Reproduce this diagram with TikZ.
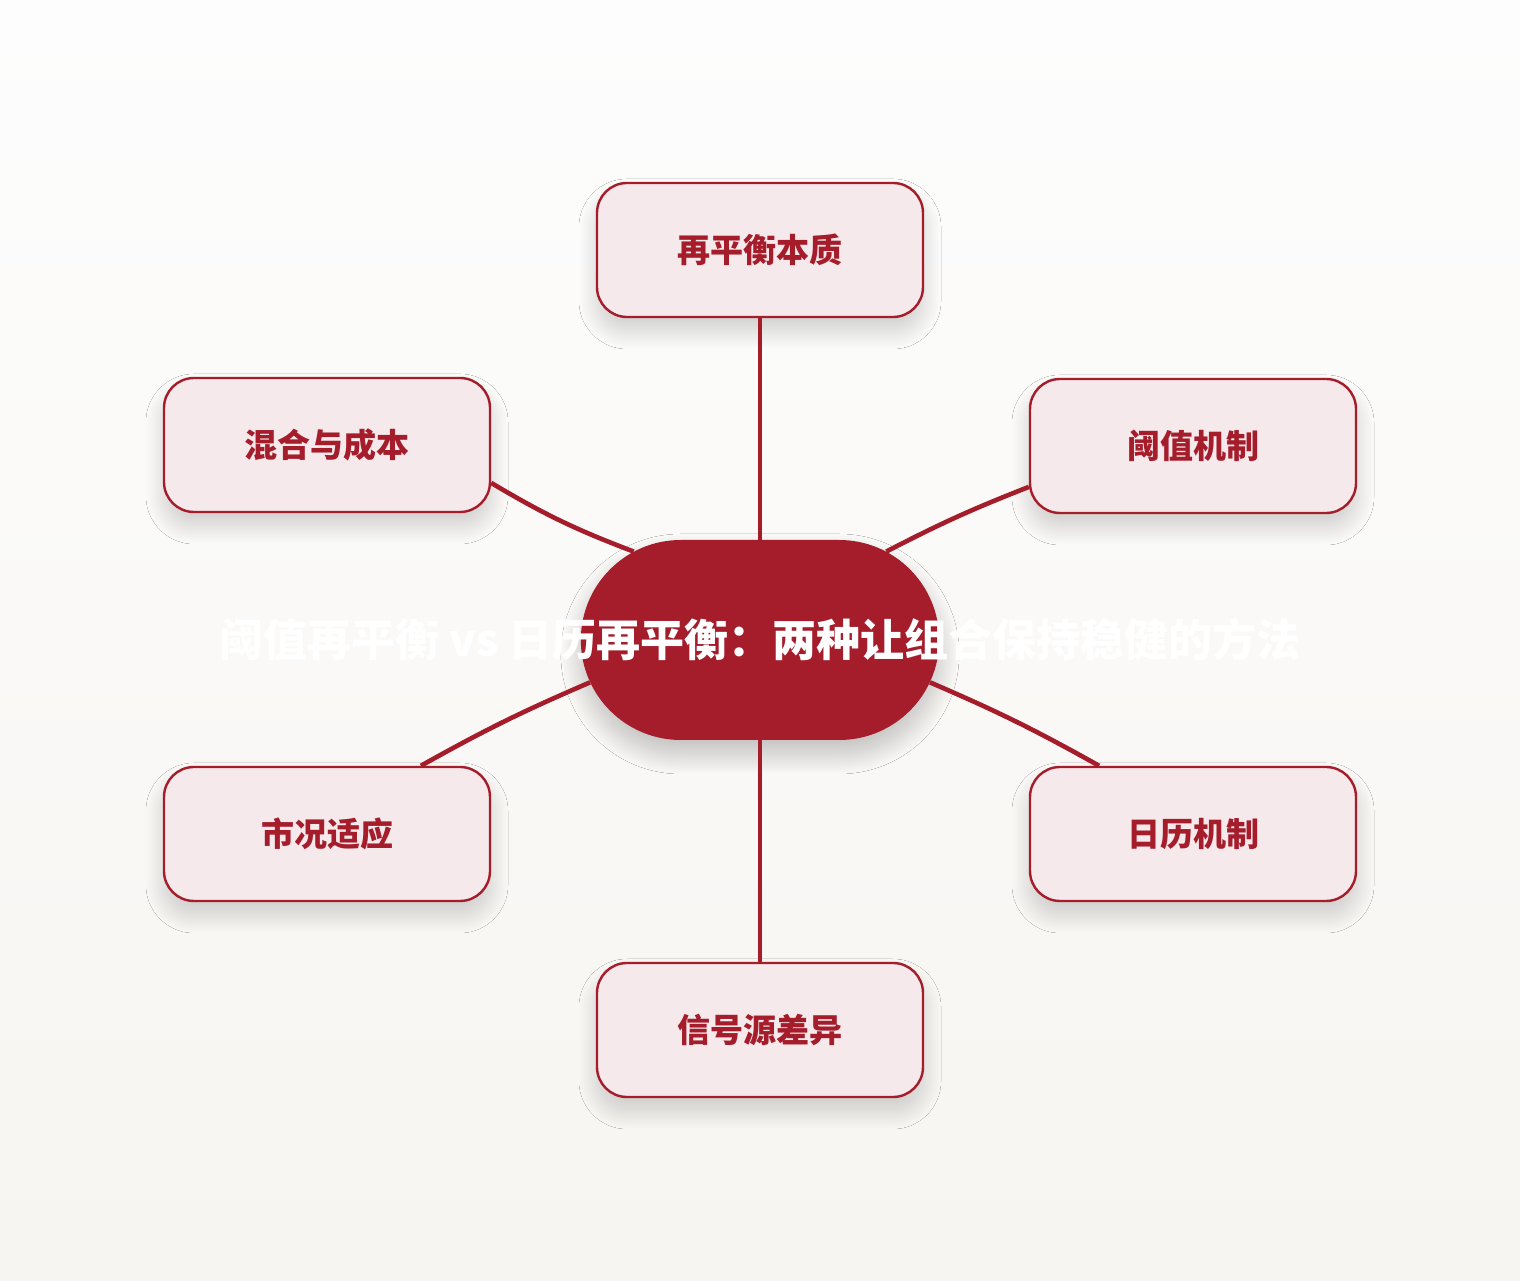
\documentclass[tikz,border=0pt]{standalone}
\usepackage{fontspec}
\usepackage{tikz}
\usetikzlibrary{shapes.misc,shadows.blur}
\newfontfamily\cjk{Noto Sans CJK SC}
\definecolor{hubred}{HTML}{A51C2B}
\definecolor{leaffill}{HTML}{F5E9EC}
\definecolor{bgtop}{HTML}{FDFDFD}
\definecolor{bgbot}{HTML}{F7F5F1}

\begin{document}
\begin{tikzpicture}[x=1pt,y=1pt,
  leaf/.style={draw=hubred,line width=2.4pt,fill=leaffill,rounded corners=30pt,
    minimum width=326pt,minimum height=134pt,text=hubred,
    font=\cjk\bfseries\fontsize{33}{40}\selectfont,
    blur shadow={shadow xshift=0pt,shadow yshift=-14pt,shadow blur radius=18pt,
      shadow blur steps=30,shadow opacity=18,shadow blur extra rounding=10pt}},
  hub/.style={rounded rectangle,fill=hubred,minimum width=365pt,minimum height=200pt,
    blur shadow={shadow xshift=0pt,shadow yshift=-14pt,shadow blur radius=20pt,
      shadow blur steps=30,shadow opacity=24}},
  title/.style={text=white,font=\cjk\bfseries\fontsize{44}{52}\selectfont},
  link/.style={draw=hubred,line width=4.6pt}]
  \fill[top color=bgtop,bottom color=bgbot] (0,0) rectangle (1520,1280);
  \useasboundingbox (0,0) rectangle (1520,1280);

  \node[leaf] (t) at (760,1030) {再平衡本质};
  \node[leaf] (ul) at (327,835) {混合与成本};
  \node[leaf] (ur) at (1193,834) {阈值机制};
  \node[leaf] (ll) at (327,446) {市况适应};
  \node[leaf] (lr) at (1193,446) {日历机制};
  \node[leaf] (b) at (760,250) {信号源差异};

  \node[hub] (c) at (760,640) {};

  \foreach \from/\to/\b in {t.south/c.north/0,ul.-13/c.145/-5,ur.194/c.35/-3,ll.36/c.194/3,lr.144/c.-14/-3,c.south/b.north/0}
    \draw[link] (\from) to[bend left=\b] (\to);

  \node[title] (ttl) at (c) {阈值再平衡 vs 日历再平衡：两种让组合保持稳健的方法};
\end{tikzpicture}
\end{document}
